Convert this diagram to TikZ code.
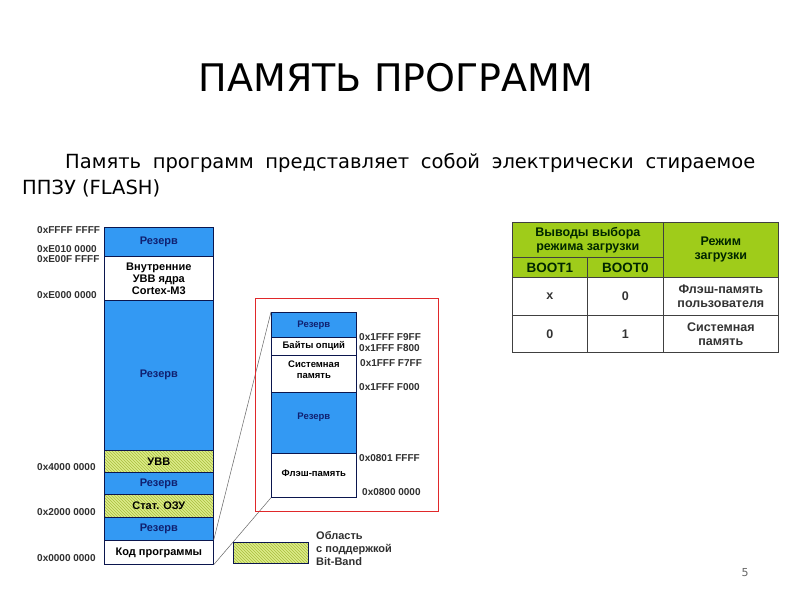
\documentclass[tikz,border=0pt]{standalone}
\usepackage{fontspec}
\setmainfont{DejaVu Sans}
\newfontfamily\lab{Liberation Sans}
\usetikzlibrary{patterns}
\definecolor{memblue}{HTML}{3399F3}
\definecolor{navytext}{HTML}{102070}
\definecolor{hatchbg}{HTML}{DDEB8A}
\definecolor{hatchln}{HTML}{A8BE3C}
\definecolor{tabgreen}{HTML}{9FCC1A}
\definecolor{addr}{HTML}{303030}
\definecolor{redframe}{HTML}{E0282A}
\tikzset{
  x=1pt, y=-1pt,
  blk/.style={draw=navytext!70!black, line width=0.7pt, anchor=north west, inner sep=0pt,
    font=\lab\bfseries\fontsize{11}{12}\selectfont, align=center},
  blueblk/.style={blk, fill=memblue, text=navytext},
  whiteblk/.style={blk, fill=white, text=black},
  hatchblk/.style={blk, text=black, preaction={fill=hatchbg}, pattern=north west lines, pattern color=hatchln},
  addrlbl/.style={anchor=west, inner sep=0pt, text=addr, font=\lab\bfseries\fontsize{10}{11}\selectfont},
  cell/.style={draw=black!75, line width=0.7pt, anchor=north west, inner sep=0pt, align=center,
    font=\lab\bfseries\fontsize{12.5}{14}\selectfont},
  greencell/.style={cell, fill=tabgreen, text=black!85!green},
  wcell/.style={cell, fill=white, text=black!80},
  conn/.style={draw=black!60, line width=0.5pt}
}
\begin{document}
\begin{tikzpicture}
\useasboundingbox (0,0) rectangle (800,600);
\fill[white] (0,0) rectangle (800,600);

% title and body text
\node[font=\fontsize{38}{44}\selectfont, inner sep=0pt] (title) at (396,78) {ПАМЯТЬ ПРОГРАММ};
\node[anchor=west, inner sep=0pt, font=\fontsize{19.5}{22}\selectfont] (line1) at (65,163)
  {\makebox[690pt][s]{Память программ представляет собой электрически стираемое}};
\node[anchor=west, inner sep=0pt, font=\fontsize{19.5}{22}\selectfont] (line2) at (22,188) {ППЗУ (FLASH)};

% main memory map
\node[blueblk, minimum width=109, minimum height=29] (m1) at (104,227) {Резерв};
\node[whiteblk, minimum width=109, minimum height=44] (m2) at (104,256) {Внутренние\\УВВ ядра\\Cortex-M3};
\node[blueblk, minimum width=109, minimum height=150] (m3) at (104,300) {Резерв};
\node[hatchblk, minimum width=109, minimum height=22] (m4) at (104,450) {УВВ};
\node[blueblk, minimum width=109, minimum height=22] (m5) at (104,472) {Резерв};
\node[hatchblk, minimum width=109, minimum height=23] (m6) at (104,494) {Стат. ОЗУ};
\node[blueblk, minimum width=109, minimum height=23] (m7) at (104,517) {Резерв};
\node[whiteblk, minimum width=109, minimum height=24] (m8) at (104,540) {Код программы};

\node[addrlbl] (a1) at (37,230) {0xFFFF FFFF};
\node[addrlbl] (a2) at (37,249) {0xE010 0000};
\node[addrlbl] (a3) at (37,259) {0xE00F FFFF};
\node[addrlbl] (a4) at (37,295) {0xE000 0000};
\node[addrlbl] (a5) at (37,467) {0x4000 0000};
\node[addrlbl] (a6) at (37,512) {0x2000 0000};
\node[addrlbl] (a7) at (37,558) {0x0000 0000};

% zoomed flash map
\node[blueblk, minimum width=85, minimum height=25, font=\lab\bfseries\fontsize{9.5}{11}\selectfont] (f1) at (271,312) {Резерв};
\node[whiteblk, minimum width=85, minimum height=18, font=\lab\bfseries\fontsize{9.5}{11}\selectfont] (f2) at (271,337) {Байты опций};
\node[whiteblk, minimum width=85, minimum height=37, font=\lab\bfseries\fontsize{9.5}{11}\selectfont, text depth=8pt] (f3) at (271,355) {Системная\\память};
\node[blueblk, minimum width=85, minimum height=61, font=\lab\bfseries\fontsize{9.5}{11}\selectfont, text depth=14pt] (f4) at (271,392) {Резерв};
\node[whiteblk, minimum width=85, minimum height=44, font=\lab\bfseries\fontsize{9.5}{11}\selectfont, text depth=4pt] (f5) at (271,453) {Флэш-память};

\node[addrlbl] (b1) at (359,337) {0x1FFF F9FF};
\node[addrlbl] (b2) at (359,348) {0x1FFF F800};
\node[addrlbl] (b3) at (360,363) {0x1FFF F7FF};
\node[addrlbl] (b4) at (359,387) {0x1FFF F000};
\node[addrlbl] (b5) at (359,458) {0x0801 FFFF};
\node[addrlbl] (b6) at (362,492) {0x0800 0000};

% connectors
\draw[conn] (m8.north east) -- (f1.north west);
\draw[conn] (m8.south east) -- (f5.south west);

% red frame
\node[draw=redframe, line width=1.3pt, anchor=north west, minimum width=183, minimum height=213, inner sep=0pt] (frame) at (255,298) {};

% legend
\node[hatchblk, minimum width=75, minimum height=21] (leg) at (233,542) {};
\node[anchor=north west, inner sep=0pt, align=left, text=addr, font=\lab\bfseries\fontsize{11}{13}\selectfont] (legtxt) at (316,531) {Область\\с поддержкой\\Bit-Band};

% table
\node[greencell, minimum width=151, minimum height=35] (t1) at (512,222) {Выводы выбора\\режима загрузки};
\node[greencell, minimum width=115, minimum height=55] (t2) at (663,222) {Режим\\загрузки};
\node[greencell, minimum width=75, minimum height=20, font=\lab\bfseries\fontsize{13.5}{14}\selectfont] (t3) at (512,257) {BOOT1};
\node[greencell, minimum width=76, minimum height=20, font=\lab\bfseries\fontsize{13.5}{14}\selectfont] (t4) at (587,257) {BOOT0};
\node[wcell, minimum width=75, minimum height=38] (t5) at (512,277) {x};
\node[wcell, minimum width=76, minimum height=38] (t6) at (587,277) {0};
\node[wcell, minimum width=115, minimum height=38] (t7) at (663,277) {Флэш-память\\пользователя};
\node[wcell, minimum width=75, minimum height=37] (t8) at (512,315) {0};
\node[wcell, minimum width=76, minimum height=37] (t9) at (587,315) {1};
\node[wcell, minimum width=115, minimum height=37] (t10) at (663,315) {Системная\\память};

% page number
\node[text=black!60, font=\fontsize{11}{12}\selectfont, inner sep=0pt] (pg) at (745,573) {5};
\end{tikzpicture}
\end{document}
